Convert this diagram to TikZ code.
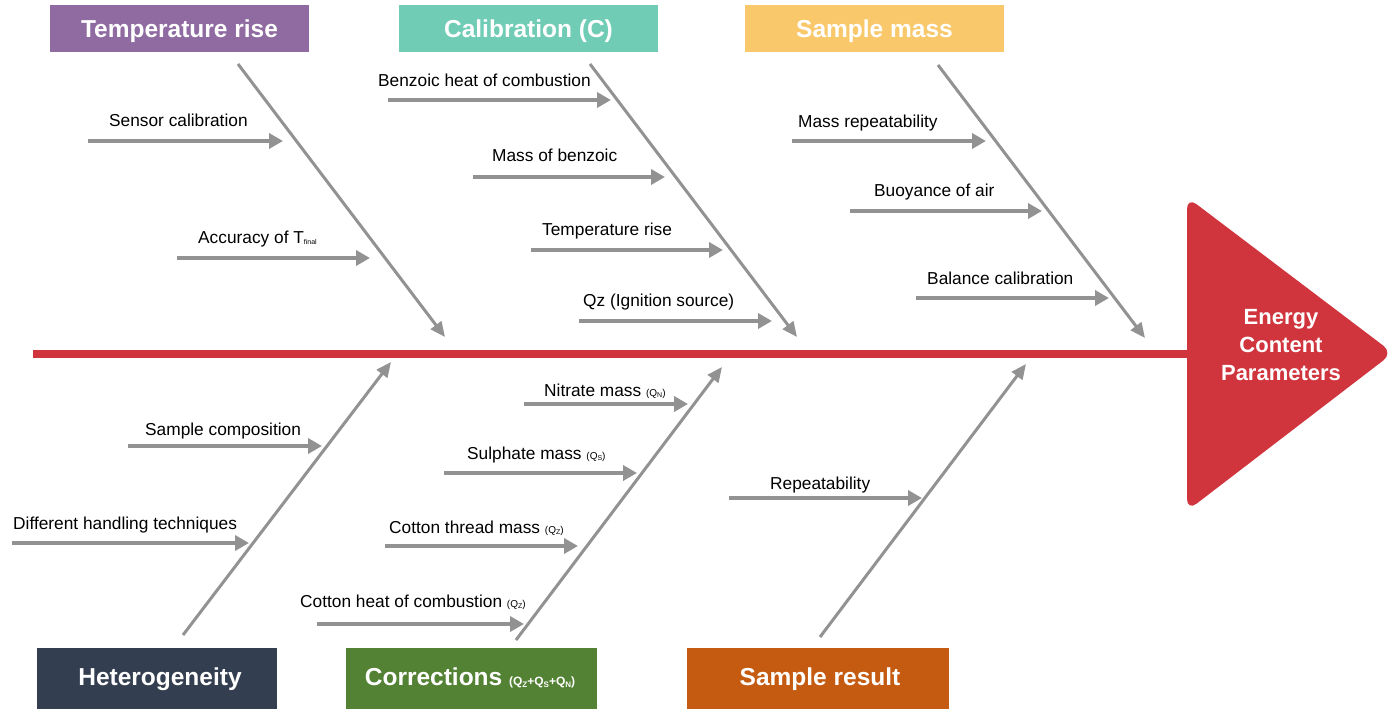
\documentclass[tikz,border=0pt]{standalone}
\usepackage{fontspec}
\setmainfont{Liberation Sans}
\usetikzlibrary{arrows.meta}
\definecolor{cpurple}{HTML}{8F6BA2}
\definecolor{cteal}{HTML}{70CCB5}
\definecolor{cyellow}{HTML}{F8C86B}
\definecolor{cnavy}{HTML}{333F50}
\definecolor{cgreen}{HTML}{548235}
\definecolor{corange}{HTML}{C55A11}
\definecolor{cred}{HTML}{D0343D}
\definecolor{cgray}{HTML}{929292}
\newcommand{\smq}[1]{{\fontsize{10}{12}\selectfont(Q\raisebox{-1pt}{\fontsize{7}{8}\selectfont #1})}}
\newcommand{\lbfont}{\fontsize{17.3}{20}\selectfont}
\begin{document}
\begin{tikzpicture}[x=1pt,y=-1pt,
  catbox/.style={fill=#1,text=white,font=\fontsize{24.5}{28}\selectfont\bfseries,inner sep=0pt,minimum width=259pt,minimum height=47pt,text height=17.6pt,text depth=0pt},
  botbox/.style={fill=#1,inner sep=0pt,minimum height=64pt},
  bottitle/.style={text=white,font=\fontsize{24.5}{28}\selectfont\bfseries,inner sep=0pt,text height=17.6pt,text depth=0pt},
  bone/.style={draw=cgray,line width=3pt,-{Triangle[length=15pt,width=13pt]}},
  sub/.style={draw=cgray,line width=4pt,-{Triangle[length=14pt,width=15pt]}},
  lbl/.style={anchor=base west,inner sep=0pt,font=\lbfont,text=black}]
\useasboundingbox (0,0) rectangle (1395,709);
% head and spine
\fill[cred,rounded corners=12pt] (1187,197) -- (1393,353) -- (1187,511) -- cycle;
\node[text=white,font=\fontsize{22}{28}\selectfont\bfseries,align=center] (head) at (1281,345) {Energy\\Content\\Parameters};
\coordinate (tail) at (33,354);
\coordinate (spineend) at (1192,354);
\draw[cred,line width=8pt] (tail) -- (spineend);
% category boxes
\node[catbox=cpurple] (tr) at (179.5,28.5) {Temperature rise};
\node[catbox=cteal] (cal) at (528.5,28.5) {Calibration (C)};
\node[catbox=cyellow] (sm) at (874.5,28.5) {Sample mass};
\node[botbox=cnavy,minimum width=240pt] (het) at (157,680) {};
\node[botbox=cgreen,minimum width=251pt] (cor) at (471.5,680) {};
\node[botbox=corange,minimum width=262pt] (sr) at (818,680) {};
\node[bottitle] (hett) at (160,676.5) {Heterogeneity};
\node[bottitle] (cort) at (470,677) {Corrections {\fontsize{12}{14}\selectfont(Q\raisebox{-1.5pt}{\fontsize{8}{9}\selectfont Z}+Q\raisebox{-1.5pt}{\fontsize{8}{9}\selectfont S}+Q\raisebox{-1.5pt}{\fontsize{8}{9}\selectfont N})}};
\node[bottitle] (srt) at (820,676.5) {Sample result};
% main bones
\coordinate (b1a) at (238,64);   \coordinate (b1b) at (445,337);
\coordinate (b2a) at (590,64);   \coordinate (b2b) at (797,337);
\coordinate (b3a) at (938,65);   \coordinate (b3b) at (1145,338);
\coordinate (b4a) at (183,635);  \coordinate (b4b) at (391,362);
\coordinate (b5a) at (516,640);  \coordinate (b5b) at (722,367);
\coordinate (b6a) at (820,637);  \coordinate (b6b) at (1026,364);
\foreach \i in {1,...,6} \draw[bone] (b\i a) -- (b\i b);
% sub arrows
\coordinate (s1a) at (88,141);   \coordinate (s1b) at (283,141);
\coordinate (s2a) at (177,258);  \coordinate (s2b) at (370,258);
\coordinate (s3a) at (388,100);  \coordinate (s3b) at (611,100);
\coordinate (s4a) at (473,177);  \coordinate (s4b) at (665,177);
\coordinate (s5a) at (531,250);  \coordinate (s5b) at (723,250);
\coordinate (s6a) at (579,321);  \coordinate (s6b) at (772,321);
\coordinate (s7a) at (792,141);  \coordinate (s7b) at (986,141);
\coordinate (s8a) at (850,211);  \coordinate (s8b) at (1042,211);
\coordinate (s9a) at (916,298);  \coordinate (s9b) at (1109,298);
\coordinate (s10a) at (128,446); \coordinate (s10b) at (322,446);
\coordinate (s11a) at (12,543);  \coordinate (s11b) at (249,543);
\coordinate (s12a) at (524,404); \coordinate (s12b) at (688,404);
\coordinate (s13a) at (444,473); \coordinate (s13b) at (637,473);
\coordinate (s14a) at (385,546); \coordinate (s14b) at (578,546);
\coordinate (s15a) at (317,624); \coordinate (s15b) at (524,624);
\coordinate (s16a) at (729,498); \coordinate (s16b) at (922,498);
\foreach \i in {1,...,16} \draw[sub] (s\i a) -- (s\i b);
% labels
\node[lbl] (l1) at (109,126) {Sensor calibration};
\node[lbl] (l2) at (198,243) {Accuracy of T{\fontsize{7}{8}\selectfont\raisebox{-1.5pt}{final}}};
\node[lbl] (l3) at (378,87) {Benzoic heat of combustion};
\node[lbl] (l4) at (492,161) {Mass of benzoic};
\node[lbl] (l5) at (542,235) {Temperature rise};
\node[lbl] (l6) at (583,306) {Qz (Ignition source)};
\node[lbl] (l7) at (798,127) {Mass repeatability};
\node[lbl] (l8) at (874,196) {Buoyance of air};
\node[lbl] (l9) at (927,284) {Balance calibration};
\node[lbl] (l10) at (145,435) {Sample composition};
\node[lbl] (l11) at (13,529) {Different handling techniques};
\node[lbl] (l12) at (544,396) {Nitrate mass \smq{N}};
\node[lbl] (l13) at (467,459) {Sulphate mass \smq{S}};
\node[lbl] (l14) at (389,533) {Cotton thread mass \smq{Z}};
\node[lbl] (l15) at (300,607) {Cotton heat of combustion \smq{Z}};
\node[lbl] (l16) at (770,489) {Repeatability};
\end{tikzpicture}
\end{document}
